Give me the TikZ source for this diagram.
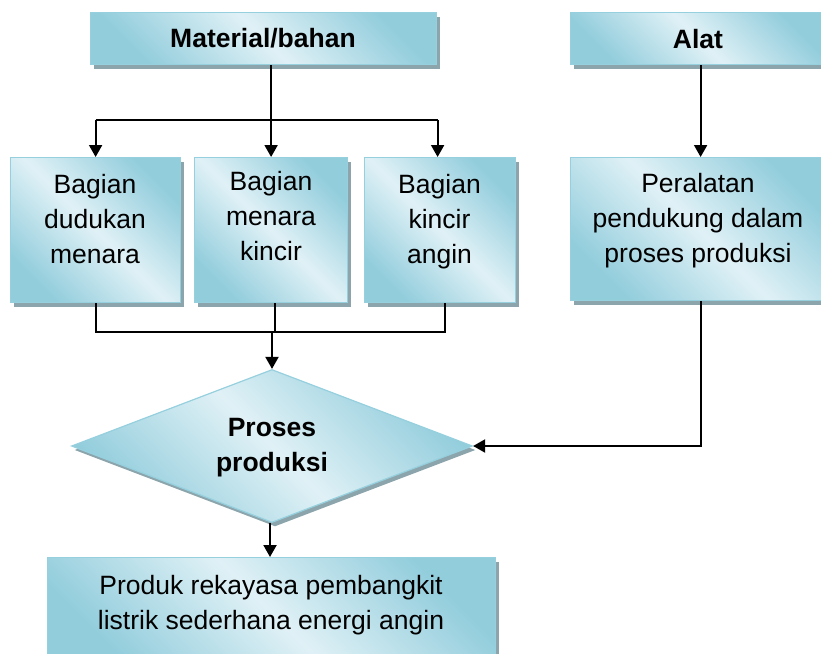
\documentclass[tikz,border=0pt]{standalone}
\usepackage{fontspec}
\setmainfont{Liberation Sans}
\usetikzlibrary{arrows.meta,shapes.geometric,shadows}
\definecolor{dk}{RGB}{146,205,220}
\definecolor{lt}{RGB}{224,241,246}
\definecolor{edge}{RGB}{150,208,222}
\definecolor{shgray}{RGB}{140,165,172}
\begin{document}
\begin{tikzpicture}[x=1pt,y=-1pt,
  box/.style={draw=edge, line width=1.2pt, top color=dk, bottom color=dk, middle color=lt, shading angle=-45,
    drop shadow={shadow xshift=3pt, shadow yshift=-4pt, fill=shgray, opacity=1},
    inner sep=0pt, anchor=north west},
  txt/.style={font=\fontsize{26.5}{35}\selectfont, align=center, inner sep=0pt},
  btxt/.style={txt, font=\fontsize{26.5}{35}\selectfont\bfseries},
  ln/.style={line width=2pt, black},
  arr/.style={ln, -{Triangle[width=13pt,length=12pt]}}]
\useasboundingbox (0,0) rectangle (821,653);
\clip (0,0) rectangle (821,653);
% boxes
\node[box, minimum width=346pt, minimum height=52pt] (mat) at (90,12) {};
\node[box, minimum width=256pt, minimum height=52pt] (alat) at (570,12) {};
\node[box, minimum width=170pt, minimum height=145pt] (b1) at (10,157) {};
\node[box, minimum width=153pt, minimum height=145pt] (b2) at (194,157) {};
\node[box, minimum width=151pt, minimum height=145pt] (b3) at (364,157) {};
\node[box, minimum width=256pt, minimum height=143pt] (per) at (570,157) {};
\node[box, minimum width=448pt, minimum height=110pt] (prod) at (47,557) {};
\node[box, anchor=center, shape=diamond, minimum width=401pt, minimum height=153pt] (dia) at (272,446) {};
% texts
\node[btxt, anchor=base] (tmat) at (263,47) {Material/bahan};
\node[btxt, anchor=base] (talat) at (698,48) {Alat};
\node[txt, anchor=north] (t1) at (95,174) {Bagian\\dudukan\\menara};
\node[txt, anchor=north] (t2) at (271,171) {Bagian\\menara\\kincir};
\node[txt, anchor=north] (t3) at (439.5,174) {Bagian\\kincir\\angin};
\node[txt, anchor=north] (tper) at (698,173) {Peralatan\\pendukung dalam\\proses produksi};
\node[btxt, anchor=north] (tdia) at (272,418) {Proses\\produksi};
\node[txt, anchor=north] (tprod) at (271,575) {Produk rekayasa pembangkit\\listrik sederhana energi angin};
% connectors
\coordinate (split) at (0,120);
\coordinate (join) at (0,332);
\draw[arr] (mat.south -| b2.north) -- (b2.north);
\draw[ln] (b1.north |- split) -- ([xshift=-2.5pt]b3.north |- split);
\draw[arr] (b1.north |- split) -- (b1.north);
\draw[arr] ([xshift=-2.5pt]b3.north |- split) -- ([xshift=-2.5pt]b3.north);
\draw[arr] ([xshift=2pt]alat.south) -- ([xshift=2pt]per.north);
\draw[ln] (b1.south) -- (b1.south |- join) -- ([xshift=4.5pt]b3.south |- join) -- ([xshift=4.5pt]b3.south);
\draw[ln] ([xshift=3.5pt]b2.south) -- ([xshift=3.5pt]b2.south |- join);
\draw[arr] (dia.north |- join) -- (dia.north);
\draw[arr] ([xshift=2pt]per.south) |- (dia.east);
\draw[arr] ([xshift=-2pt]dia.south) -- ([xshift=-2pt]dia.south |- prod.north);
\end{tikzpicture}
\end{document}
